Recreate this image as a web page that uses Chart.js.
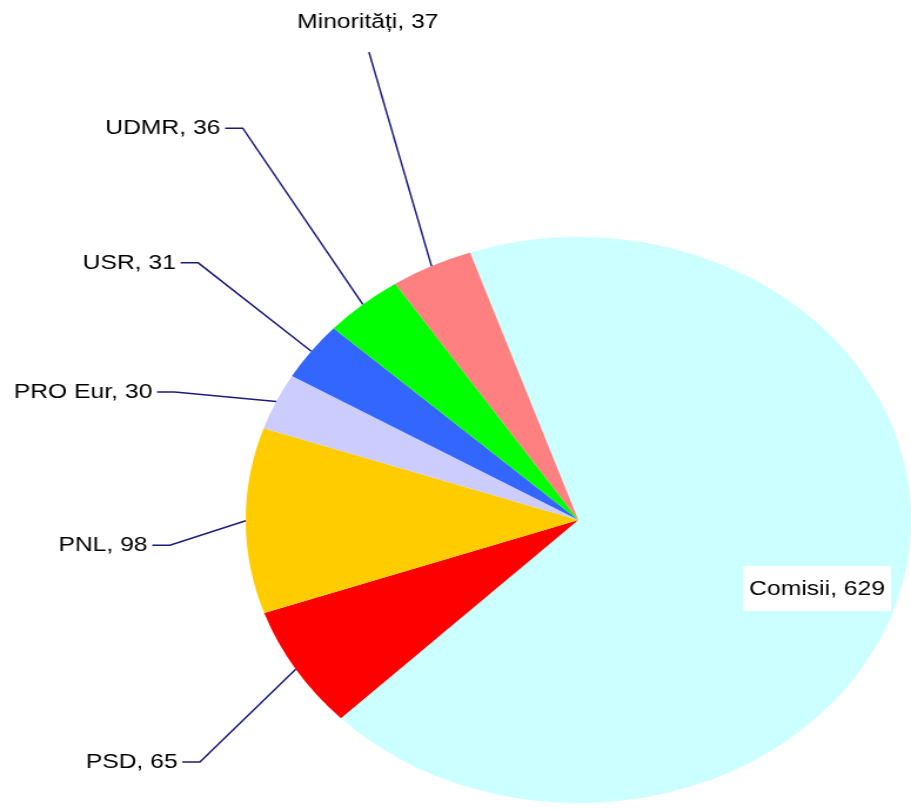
<!DOCTYPE html>
<html>
<head>
    <meta charset="utf-8">
    <title>Comisii</title>
    <script src="https://cdn.jsdelivr.net/npm/chart.js"></script>
    <style>
        html, body { margin: 0; padding: 0; background: #ffffff; }
    </style>
</head>
<body>
    <!-- drawn narrow and stretched sideways, like the original picture -->
    <canvas id="pie" width="775" height="809" style="display:block;width:911px;height:809px;"></canvas>

    <script>
        // data
        const labels = ['Comisii', 'PSD', 'PNL', 'PRO Eur', 'USR', 'UDMR', 'Minorități'];
        const values = [629, 65, 98, 30, 31, 36, 37];
        const colors = ['#ccffff', '#ff0000', '#ffcc00', '#ccccff', '#3366ff', '#00ff00', '#ff8080'];

        // label placement relative to each slice: angle shift (deg) and distance (x radius)
        const labelLayout = [
            { da: 5.25, k: 0.757, mode: 'inside' },
            { da: -5.1, k: 1.423, mode: 'left' },
            { da: -4.0, k: 1.231, mode: 'left' },
            { da: -4.3, k: 1.295, mode: 'left' },
            { da: 1.9,  k: 1.460, mode: 'left' },
            { da: 4.3,  k: 1.713, mode: 'left' },
            { da: 5.35, k: 1.769, mode: 'top' }
        ];

        const sliceLabels = {
            id: 'sliceLabels',
            afterDatasetsDraw(chart) {
                const ctx = chart.ctx;
                const arcs = chart.getDatasetMeta(0).data;
                ctx.save();
                ctx.font = '21px "Liberation Sans", Arial, sans-serif';
                ctx.textBaseline = 'middle';
                ctx.strokeStyle = '#1a1a80';
                ctx.lineWidth = 1.5;
                arcs.forEach((arc, i) => {
                    const p = arc.getProps(['x', 'y', 'startAngle', 'endAngle', 'outerRadius'], true);
                    const mid = (p.startAngle + p.endAngle) / 2;
                    const lay = labelLayout[i];
                    const a = mid + lay.da * Math.PI / 180;
                    const lx = p.x + Math.cos(a) * p.outerRadius * lay.k;
                    const ly = p.y + Math.sin(a) * p.outerRadius * lay.k;
                    const text = labels[i] + ', ' + values[i];

                    if (lay.mode === 'inside') {
                        const w = ctx.measureText(text).width;
                        ctx.fillStyle = '#ffffff';
                        ctx.fillRect(lx - w / 2 - 5, ly - 22, w + 10, 45);
                        ctx.fillStyle = '#000000';
                        ctx.textAlign = 'center';
                        ctx.fillText(text, lx, ly + 1);
                        return;
                    }

                    // leader line from the slice edge
                    const ex = p.x + Math.cos(mid) * p.outerRadius;
                    const ey = p.y + Math.sin(mid) * p.outerRadius;
                    ctx.beginPath();
                    ctx.moveTo(ex, ey);
                    ctx.lineTo(lx, ly);
                    if (lay.mode === 'left') ctx.lineTo(lx - 15, ly);
                    ctx.stroke();

                    ctx.fillStyle = '#000000';
                    if (lay.mode === 'left') {
                        ctx.textAlign = 'right';
                        ctx.fillText(text, lx - 19, ly);
                    } else {
                        ctx.textAlign = 'center';
                        ctx.fillText(text, lx - 1, ly - 30);
                    }
                });
                ctx.restore();
            }
        };

        new Chart(document.getElementById('pie'), {
            type: 'pie',
            data: {
                labels: labels,
                datasets: [{
                    data: values,
                    backgroundColor: colors,
                    borderWidth: 0,
                    hoverOffset: 0
                }]
            },
            options: {
                responsive: false,
                animation: false,
                rotation: -19,
                layout: { padding: { left: 209, right: 0, top: 237, bottom: 6 } },
                plugins: {
                    legend: { display: false },
                    tooltip: { enabled: false }
                },
                events: []
            },
            plugins: [sliceLabels]
        });
    </script>
</body>
</html>
